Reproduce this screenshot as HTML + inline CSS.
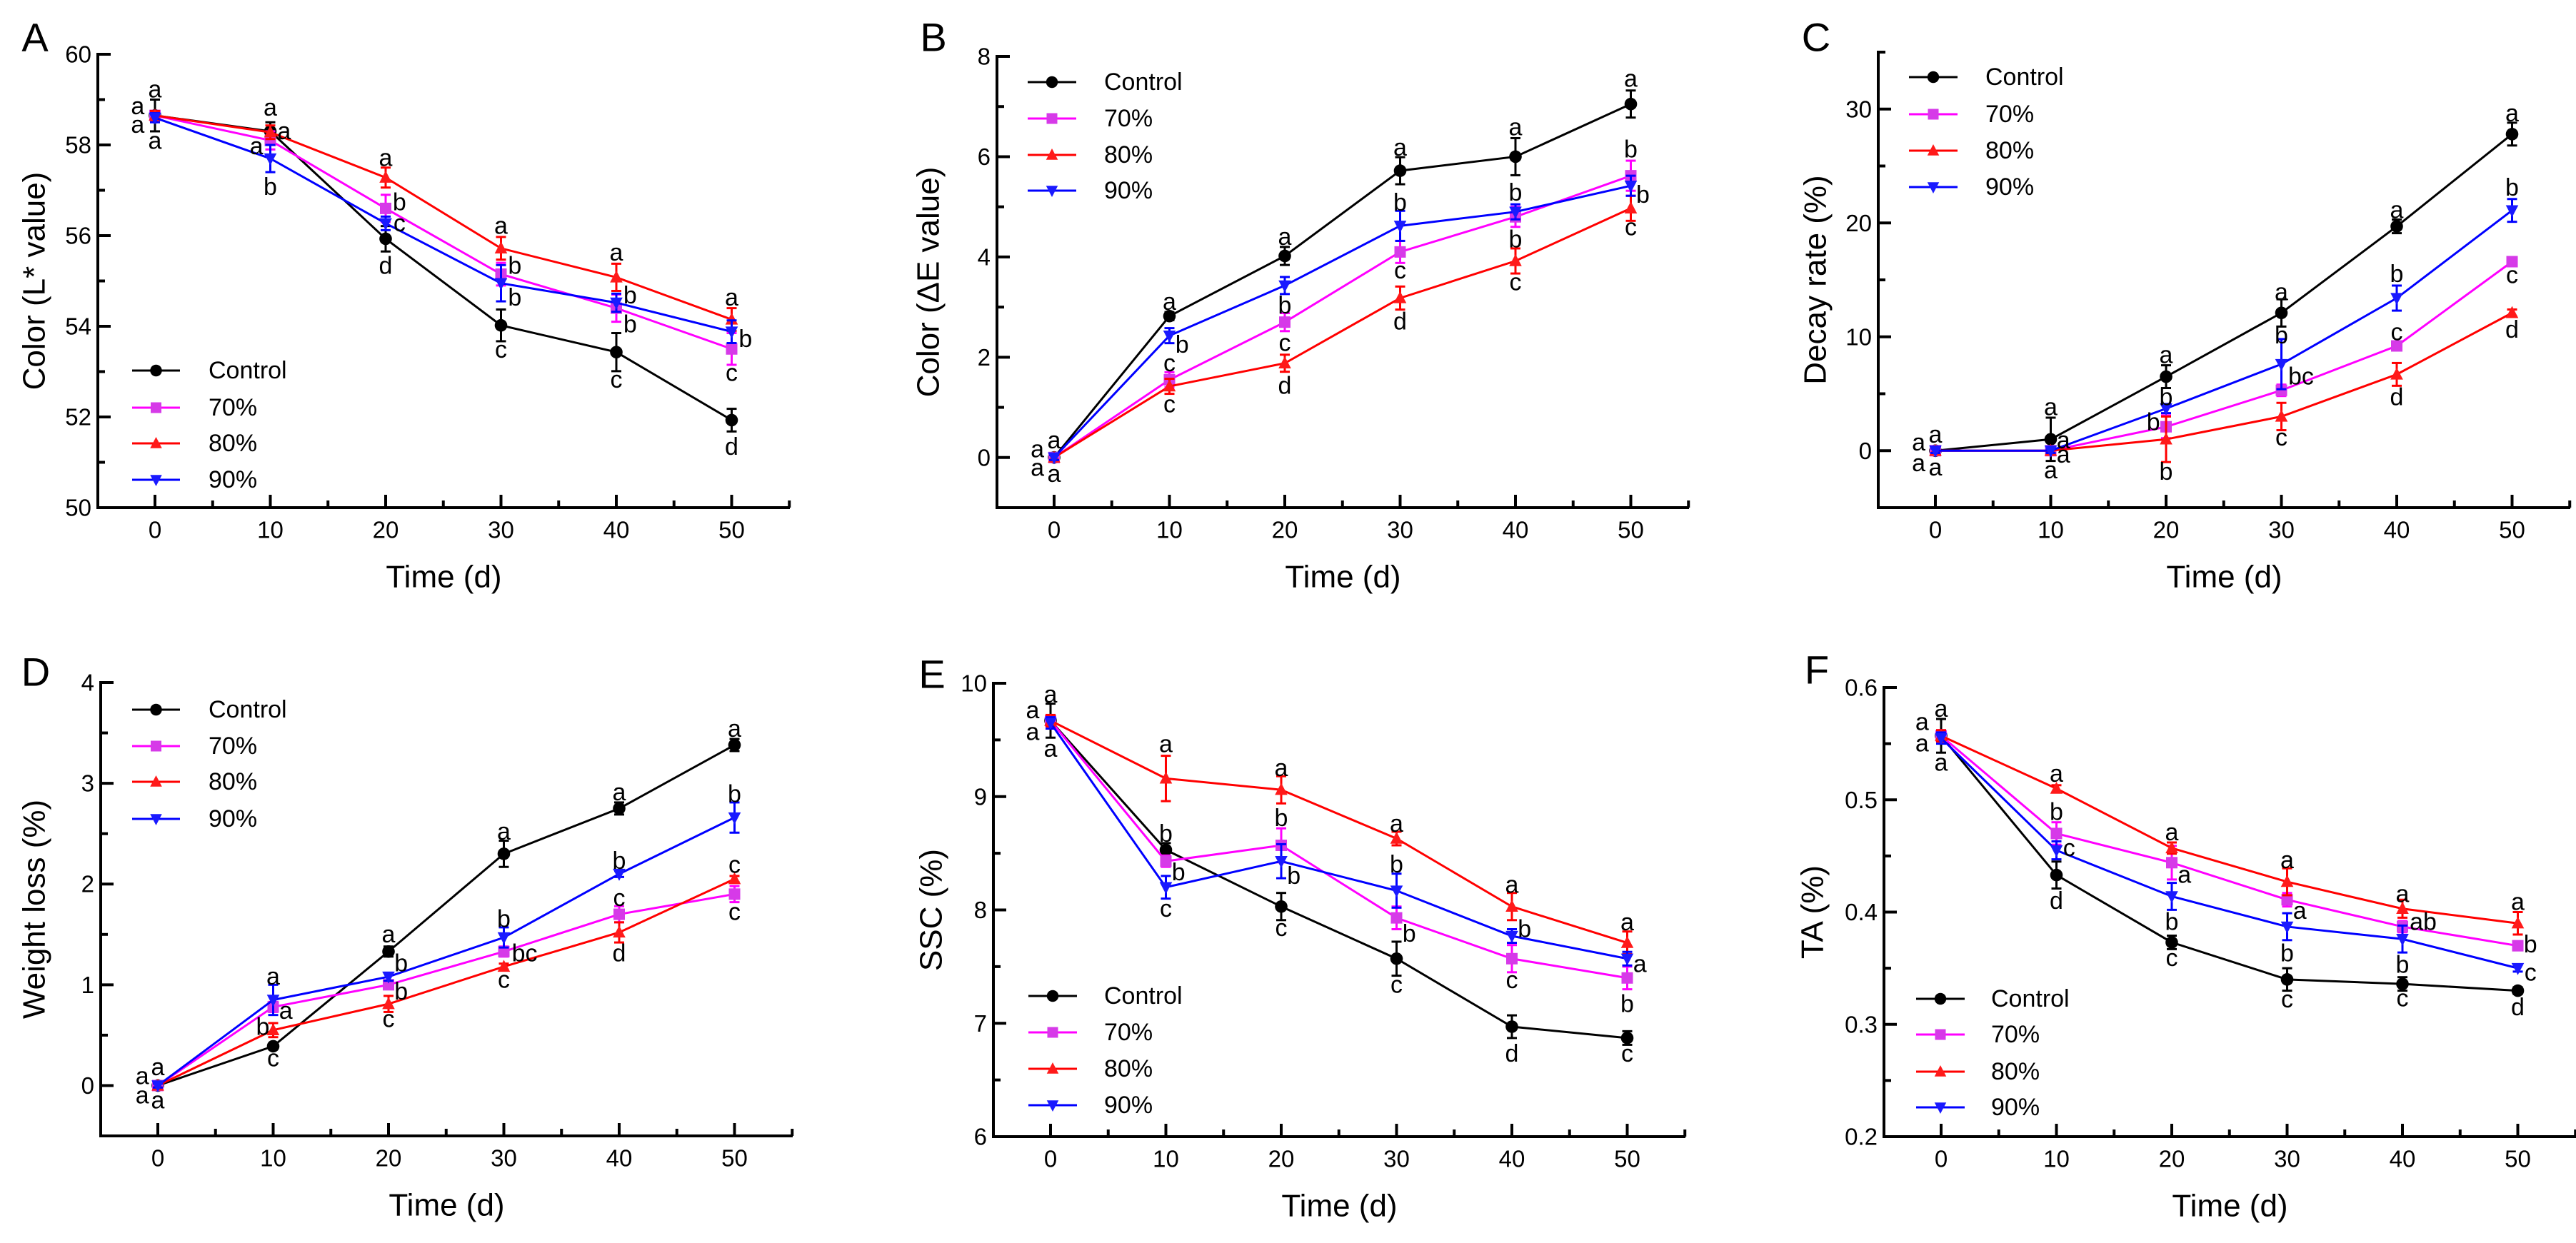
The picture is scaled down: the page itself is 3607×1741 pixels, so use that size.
<!DOCTYPE html>
<html><head><meta charset="utf-8"><style>
html,body{margin:0;padding:0;background:#fff}
svg{display:block;font-family:"Liberation Sans",Arial,sans-serif}
</style></head><body>
<svg id="fig" width="3607" height="1741" viewBox="0 0 3607 1741" xmlns="http://www.w3.org/2000/svg"></svg>
<script>
const days=[0,10,20,30,40,50];
const seriesNames=["Control","70%","80%","90%"];
// Panel A: L*
const A_ctrl=[58.65,58.3,55.93,54.02,53.43,51.93];
const A_70=[58.65,58.1,56.6,55.15,54.4,53.5];
const A_80=[58.65,58.28,57.28,55.72,55.08,54.15];
const A_90=[58.6,57.7,56.27,54.95,54.52,53.88];
const A_err_ctrl=[0.35,0.2,0.28,0.35,0.42,0.25];
const A_err_70=[0.1,0.2,0.3,0.25,0.3,0.35];
const A_err_80=[0.1,0.15,0.22,0.25,0.3,0.25];
const A_err_90=[0.1,0.3,0.15,0.4,0.2,0.25];
const A_letters=[[0,59.22,"a"],[-1.5,58.85,"a"],[-1.5,58.44,"a"],[0,58.09,"a"],[10,58.82,"a"],[11.2,58.3,"a"],[8.8,57.97,"a"],[10,57.07,"b"],[20,57.71,"a"],[21.2,56.73,"b"],[21.2,56.27,"c"],[20,55.33,"d"],[30,56.21,"a"],[31.2,55.33,"b"],[31.2,54.63,"b"],[30,53.48,"c"],[40,55.62,"a"],[41.2,54.68,"b"],[41.2,54.04,"b"],[40,52.82,"c"],[50,54.63,"a"],[51.2,53.72,"b"],[50,52.97,"c"],[50,51.34,"d"]];
// Panel B: dE
const B_ctrl=[0,2.82,4.02,5.72,6.0,7.05];
const B_70=[0,1.55,2.7,4.1,4.8,5.62];
const B_80=[0,1.42,1.88,3.18,3.92,4.97];
const B_90=[0,2.43,3.43,4.62,4.9,5.42];
const B_err_ctrl=[0.05,0.08,0.18,0.27,0.37,0.27];
const B_err_70=[0.05,0.15,0.18,0.22,0.2,0.3];
const B_err_80=[0.05,0.15,0.17,0.23,0.25,0.25];
const B_err_90=[0.05,0.15,0.17,0.3,0.15,0.2];
const B_letters=[[0,0.34,"a"],[-1.45,0.16,"a"],[-1.45,-0.21,"a"],[0,-0.33,"a"],[10,3.1,"a"],[11.1,2.25,"b"],[10,1.88,"c"],[10,1.06,"c"],[20,4.4,"a"],[20,3.03,"b"],[20,2.28,"c"],[20,1.43,"d"],[30,6.18,"a"],[30,5.08,"b"],[30,3.73,"c"],[30,2.71,"d"],[40,6.58,"a"],[40,5.28,"b"],[40,4.35,"b"],[40,3.49,"c"],[50,7.55,"a"],[50,6.14,"b"],[51.05,5.24,"b"],[50,4.59,"c"]];
// Panel C: decay
const C_ctrl=[0,1.0,6.5,12.1,19.7,27.8];
const C_70=[0,0,2.1,5.3,9.2,16.6];
const C_80=[0,0,1.0,3.0,6.7,12.1];
const C_90=[0,0,3.7,7.6,13.4,21.1];
const C_err_ctrl=[0.3,1.9,1.0,1.2,0.6,1.0];
const C_err_70=[0.3,0.2,1.0,0.5,0.4,0.4];
const C_err_80=[0.2,0.2,2.0,1.2,1.0,0.3];
const C_err_90=[0.2,0.2,0.4,2.2,1.1,1.0];
const C_letters=[[0,1.4,"a"],[-1.45,0.7,"a"],[-1.45,-1.1,"a"],[0,-1.5,"a"],[10,3.8,"a"],[11.1,0.9,"a"],[11.1,-0.35,"a"],[10,-1.75,"a"],[20,8.4,"a"],[20,4.7,"b"],[18.9,2.5,"b"],[20,-1.85,"b"],[30,13.9,"a"],[30,10.1,"b"],[31.7,6.5,"bc"],[30,1.15,"c"],[40,21.1,"a"],[40,15.5,"b"],[40,10.4,"c"],[40,4.7,"d"],[50,29.6,"a"],[50,23.1,"b"],[50,15.4,"c"],[50,10.6,"d"]];
// Panel D: weight loss
const D_ctrl=[0,0.39,1.33,2.3,2.75,3.38];
const D_70=[0,0.78,1.0,1.33,1.7,1.9];
const D_80=[0,0.55,0.81,1.18,1.52,2.05];
const D_90=[0,0.85,1.08,1.47,2.1,2.66];
const D_err_ctrl=[0.03,0.03,0.05,0.13,0.06,0.06];
const D_err_70=[0.03,0.05,0.04,0.05,0.08,0.08];
const D_err_80=[0.02,0.07,0.08,0.03,0.1,0.03];
const D_err_90=[0.02,0.15,0.04,0.1,0.03,0.15];
const D_letters=[[0,0.18,"a"],[-1.35,0.09,"a"],[-1.35,-0.1,"a"],[0,-0.15,"a"],[10,1.08,"a"],[11.1,0.74,"a"],[9.1,0.58,"b"],[10,0.27,"c"],[20,1.5,"a"],[21.1,1.21,"b"],[21.1,0.93,"b"],[20,0.66,"c"],[30,2.52,"a"],[30,1.65,"b"],[31.8,1.31,"bc"],[30,1.05,"c"],[40,2.91,"a"],[40,2.23,"b"],[40,1.86,"c"],[40,1.31,"d"],[50,3.54,"a"],[50,2.89,"b"],[50,2.19,"c"],[50,1.72,"c"]];
// Panel E: SSC
const E_ctrl=[9.67,8.53,8.03,7.57,6.97,6.87];
const E_70=[9.67,8.43,8.57,7.93,7.57,7.4];
const E_80=[9.67,9.16,9.06,8.63,8.03,7.71];
const E_90=[9.65,8.2,8.43,8.17,7.77,7.57];
const E_err_ctrl=[0.15,0.06,0.12,0.15,0.1,0.06];
const E_err_70=[0.05,0.05,0.15,0.1,0.12,0.1];
const E_err_80=[0.05,0.2,0.12,0.06,0.12,0.1];
const E_err_90=[0.05,0.1,0.15,0.15,0.06,0.06];
const E_letters=[[0,9.9,"a"],[-1.55,9.76,"a"],[-1.55,9.57,"a"],[0,9.42,"a"],[10,9.46,"a"],[10,8.67,"b"],[11.1,8.33,"b"],[10,8.01,"c"],[20,9.25,"a"],[20,8.81,"b"],[21.1,8.3,"b"],[20,7.84,"c"],[30,8.76,"a"],[30,8.4,"b"],[31.1,7.79,"b"],[30,7.34,"c"],[40,8.22,"a"],[41.1,7.83,"b"],[40,7.38,"c"],[40,6.73,"d"],[50,7.89,"a"],[51.1,7.52,"a"],[50,7.17,"b"],[50,6.73,"c"]];
// Panel F: TA
const F_ctrl=[0.557,0.433,0.373,0.34,0.336,0.33];
const F_70=[0.557,0.47,0.444,0.411,0.387,0.37];
const F_80=[0.557,0.51,0.457,0.427,0.403,0.39];
const F_90=[0.555,0.455,0.414,0.387,0.376,0.35];
const F_err_ctrl=[0.015,0.012,0.006,0.01,0.006,0.003];
const F_err_70=[0.005,0.01,0.015,0.006,0.005,0.004];
const F_err_80=[0.005,0.003,0.005,0.012,0.008,0.01];
const F_err_90=[0.005,0.008,0.012,0.012,0.012,0.003];
const F_letters=[[0,0.581,"a"],[-1.65,0.569,"a"],[-1.65,0.55,"a"],[0,0.533,"a"],[10,0.523,"a"],[10,0.489,"b"],[11.1,0.457,"c"],[10,0.41,"d"],[20,0.471,"a"],[21.1,0.433,"a"],[20,0.391,"b"],[20,0.359,"c"],[30,0.446,"a"],[31.1,0.401,"a"],[30,0.363,"b"],[30,0.322,"c"],[40,0.416,"a"],[41.8,0.391,"ab"],[40,0.353,"b"],[40,0.323,"c"],[50,0.409,"a"],[51.1,0.371,"b"],[51.1,0.346,"c"],[50,0.315,"d"]];
const yTicksA=[50,52,54,56,58,60];
const yTicksB=[0,2,4,6,8];
const yTicksC=[0,10,20,30];
const yTicksD=[0,1,2,3,4];
const yTicksE=[6,7,8,9,10];
const yTicksF=[0.2,0.3,0.4,0.5,0.6];
const xTicks=[0,10,20,30,40,50];

const NS="http://www.w3.org/2000/svg";
const svg=document.getElementById('fig');
function mk(tag,attrs,parent){const e=document.createElementNS(NS,tag);for(const k in attrs)e.setAttribute(k,attrs[k]);(parent||svg).appendChild(e);return e;}
const colors=["#000000","#ff00ff","#ff0000","#0000ff"];
const mcolors=["#000000","#d63ae8","#ff1a1a","#1a1aff"];

const panels=[
 {id:"A",ax:137,top:76,bot:711,ymin:50,ymax:60,ticks:yTicksA,minor:1,dec:0,title:"Color (L* value)",tx:48,lx:49,ly:52,
  data:[A_ctrl,A_70,A_80,A_90],err:[A_err_ctrl,A_err_70,A_err_80,A_err_90],letters:A_letters,leg:{x1:185,x2:252,tx:292,ys:[519,571,621,672]}},
 {id:"B",ax:1396,top:79,bot:711,ymin:-1,ymax:8,ticks:yTicksB,minor:1,dec:0,title:"Color (\u0394E value)",tx:1300,lx:1307,ly:52,
  data:[B_ctrl,B_70,B_80,B_90],err:[B_err_ctrl,B_err_70,B_err_80,B_err_90],letters:B_letters,leg:{x1:1439,x2:1507,tx:1546,ys:[115,166,217,267]}},
 {id:"C",ax:2630,top:73,bot:711,ymin:-5,ymax:35,ticks:yTicksC,minor:5,dec:0,title:"Decay rate (%)",tx:2542,lx:2543,ly:52,
  data:[C_ctrl,C_70,C_80,C_90],err:[C_err_ctrl,C_err_70,C_err_80,C_err_90],letters:C_letters,leg:{x1:2673,x2:2741,tx:2780,ys:[108,160,211,262]}},
 {id:"D",ax:141,top:956,bot:1591,ymin:-0.5,ymax:4,ticks:yTicksD,minor:0.5,dec:0,title:"Weight loss (%)",tx:48,lx:50,ly:941,
  data:[D_ctrl,D_70,D_80,D_90],err:[D_err_ctrl,D_err_70,D_err_80,D_err_90],letters:D_letters,leg:{x1:185,x2:252,tx:292,ys:[994,1045,1095,1147]}},
 {id:"E",ax:1391,top:957,bot:1592,ymin:6,ymax:10,ticks:yTicksE,minor:0.5,dec:0,title:"SSC (%)",tx:1304,lx:1305,ly:944,
  data:[E_ctrl,E_70,E_80,E_90],err:[E_err_ctrl,E_err_70,E_err_80,E_err_90],letters:E_letters,leg:{x1:1440,x2:1508,tx:1546,ys:[1395,1446,1497,1548]}},
 {id:"F",ax:2638,top:963,bot:1592,ymin:0.2,ymax:0.6,ticks:yTicksF,minor:0.05,dec:1,title:"TA (%)",tx:2538,lx:2544,ly:938,
  data:[F_ctrl,F_70,F_80,F_90],err:[F_err_ctrl,F_err_70,F_err_80,F_err_90],letters:F_letters,leg:{x1:2683,x2:2751,tx:2788,ys:[1399,1449,1501,1551]}}
];

function marker(g,i,x,y,size){
  const c=mcolors[i];let m;
  if(i===0){m=mk('circle',{cx:x,cy:y,r:size*0.55,fill:c},g);}
  else if(i===1){m=mk('rect',{x:x-size*0.5,y:y-size*0.5,width:size,height:size,fill:c},g);}
  else if(i===2){m=mk('polygon',{points:`${x},${y-size*0.6} ${x-size*0.55},${y+size*0.45} ${x+size*0.55},${y+size*0.45}`,fill:c},g);}
  else {m=mk('polygon',{points:`${x},${y+size*0.6} ${x-size*0.55},${y-size*0.45} ${x+size*0.55},${y-size*0.45}`,fill:c},g);}
  return m;
}

panels.forEach(p=>{
  const g=mk('g',{});
  
  
  const unit=16.15;
  const xs=d=>p.ax+80+d*unit;
  const ys=v=>p.bot-(v-p.ymin)/(p.ymax-p.ymin)*(p.bot-p.top);
  const right=p.ax+969;
  const L=mk('text',{x:p.lx,y:p.ly,'font-size':56,'text-anchor':'middle','dominant-baseline':'central',fill:'#000'},g);
  L.textContent=p.id;
  
  
  const ag=mk('g',{stroke:'#000','stroke-width':4,fill:'none'},g);
  
  
  mk('line',{x1:p.ax,y1:p.top-2,x2:p.ax,y2:p.bot+2},ag);
  mk('line',{x1:p.ax-2,y1:p.bot,x2:right,y2:p.bot},ag);
  const nMin=Math.round((p.ymax-p.ymin)/p.minor);
  for(let k=1;k<=nMin;k++){
    const v=p.ymin+k*p.minor;
    const isMaj=p.ticks.some(t=>Math.abs(t-v)<1e-9);
    const y=ys(v);
    mk('line',{x1:p.ax,y1:y,x2:p.ax+(isMaj?18:10),y2:y},ag);
  }
  p.ticks.forEach(t=>{
    const tt=mk('text',{x:p.ax-9,y:ys(t),'font-size':33,'text-anchor':'end','dominant-baseline':'central',fill:'#000'},g);
    tt.textContent=p.dec?t.toFixed(p.dec):String(t);
    
    
  });
  for(let d=5;d<=55;d+=5){
    const maj=d%10===0;
    mk('line',{x1:xs(d),y1:p.bot,x2:xs(d),y2:p.bot-(maj?18:10)},ag);
  }
  mk('line',{x1:xs(0),y1:p.bot,x2:xs(0),y2:p.bot-18},ag);
  xTicks.forEach(t=>{
    const tt=mk('text',{x:xs(t),y:p.bot+31,'font-size':33,'text-anchor':'middle','dominant-baseline':'central',fill:'#000'},g);
    tt.textContent=String(t);
    
    
  });
  const xt=mk('text',{x:(p.ax+right)/2,y:p.bot+97,'font-size':44,'text-anchor':'middle','dominant-baseline':'central',fill:'#000'},g);
  xt.textContent="Time (d)";
  
  
  const cy=(p.top+p.bot)/2;
  const yt=mk('text',{x:p.tx,y:cy,'font-size':44,'text-anchor':'middle','dominant-baseline':'central',fill:'#000',transform:`rotate(-90 ${p.tx} ${cy})`},g);
  yt.textContent=p.title;
  
  
  p.data.forEach((vals,i)=>{
    const sg=mk('g',{},g);
    
    
    const pts=vals.map((v,j)=>xs(days[j])+','+ys(v)).join(' ');
    mk('polyline',{points:pts,fill:'none',stroke:colors[i],'stroke-width':3},sg);
    vals.forEach((v,j)=>{
      const e=p.err[i][j];const x=xs(days[j]);
      const y1=ys(v+e),y2=ys(v-e);
      mk('line',{x1:x,y1:y1,x2:x,y2:y2,stroke:colors[i],'stroke-width':3},sg);
      mk('line',{x1:x-7,y1:y1,x2:x+7,y2:y1,stroke:colors[i],'stroke-width':3},sg);
      mk('line',{x1:x-7,y1:y2,x2:x+7,y2:y2,stroke:colors[i],'stroke-width':3},sg);
      const m=marker(sg,i,x,ys(v),16);
      
      
    });
  });
  p.letters.forEach(l=>{
    const t=mk('text',{x:xs(l[0]),y:ys(l[1]),'font-size':34,'text-anchor':'middle','dominant-baseline':'central',fill:'#000'},g);
    t.textContent=l[2];
    
    
  });
  const lg=mk('g',{},g);
  
  
  seriesNames.forEach((n,i)=>{
    const y=p.leg.ys[i];
    const eg=mk('g',{},lg);
    
    
    mk('line',{x1:p.leg.x1,y1:y,x2:p.leg.x2,y2:y,stroke:colors[i],'stroke-width':3},eg);
    marker(eg,i,(p.leg.x1+p.leg.x2)/2,y,15);
    const t=mk('text',{x:p.leg.tx,y:y,'font-size':34,'dominant-baseline':'central',fill:'#000'},eg);
    t.textContent=n;
  });
});
</script>
</body></html>
